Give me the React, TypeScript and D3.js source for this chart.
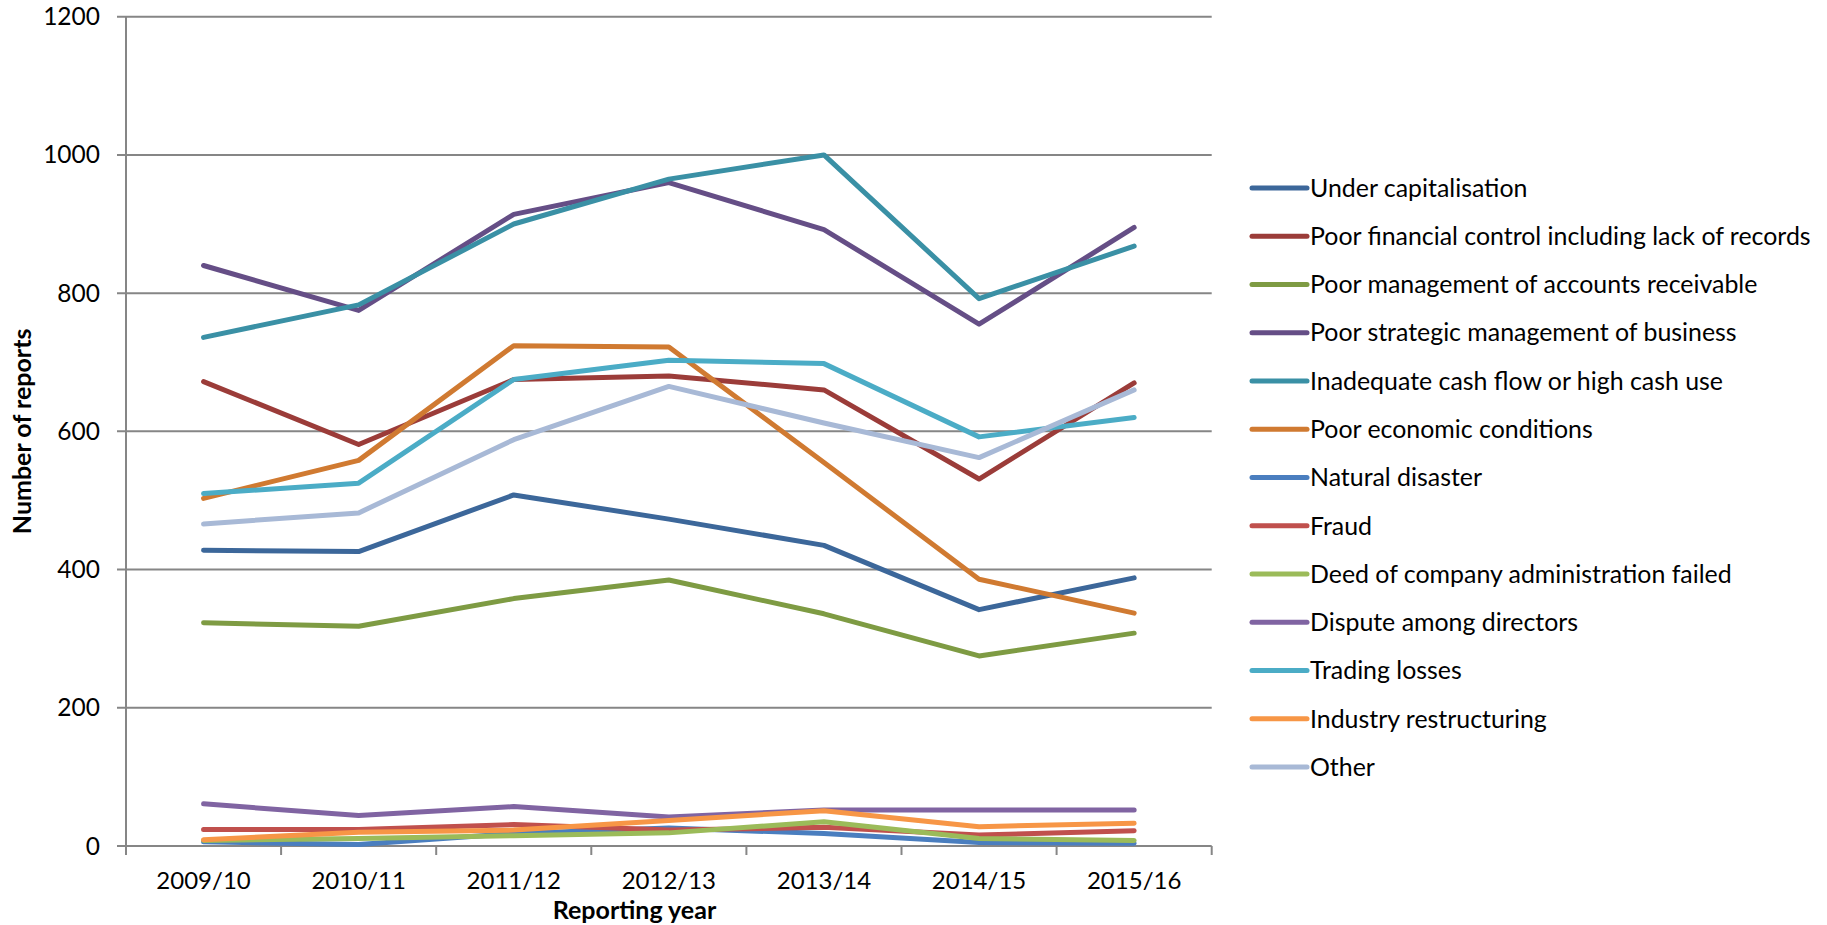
import React from "react";
import * as d3 from "d3";

const years = ["2009/10", "2010/11", "2011/12", "2012/13", "2013/14", "2014/15", "2015/16"];

const seriesNames = [
  "Under capitalisation",
  "Poor financial control including lack of records",
  "Poor management of accounts receivable",
  "Poor strategic management of business",
  "Inadequate cash flow or high cash use",
  "Poor economic conditions",
  "Natural disaster",
  "Fraud",
  "Deed of company administration failed",
  "Dispute among directors",
  "Trading losses",
  "Industry restructuring",
  "Other",
];

const underCapitalisation = [428, 426, 508, 473, 435, 342, 388];
const poorFinancialControl = [672, 581, 675, 680, 660, 531, 670];
const poorAccountsReceivable = [323, 318, 358, 385, 336, 275, 308];
const poorStrategicManagement = [840, 775, 914, 960, 892, 755, 895];
const inadequateCashFlow = [736, 783, 900, 965, 1000, 792, 868];
const poorEconomicConditions = [503, 558, 724, 722, 555, 386, 337];
const naturalDisaster = [6, 2, 18, 26, 18, 5, 4];
const fraud = [24, 24, 31, 23, 27, 16, 22];
const deedFailed = [8, 11, 15, 19, 35, 11, 8];
const disputeAmongDirectors = [61, 44, 57, 42, 52, 52, 52];
const tradingLosses = [510, 525, 675, 703, 698, 592, 620];
const industryRestructuring = [9, 20, 23, 37, 51, 28, 33];
const other = [466, 482, 588, 665, 612, 562, 660];

const seriesValues = [
  underCapitalisation,
  poorFinancialControl,
  poorAccountsReceivable,
  poorStrategicManagement,
  inadequateCashFlow,
  poorEconomicConditions,
  naturalDisaster,
  fraud,
  deedFailed,
  disputeAmongDirectors,
  tradingLosses,
  industryRestructuring,
  other,
];

const colors = [
  "#3C679A",
  "#9B3C39",
  "#7E9B43",
  "#654E86",
  "#3A90A5",
  "#D07A31",
  "#4A7EBF",
  "#C0504D",
  "#9BBB59",
  "#8064A2",
  "#4BACC6",
  "#F79646",
  "#A8B9D6",
];

const yTicks = [0, 200, 400, 600, 800, 1000, 1200];

const W = 1827;
const H = 925;
const FONT = "Lato, 'Open Sans', sans-serif";

export default function App() {
  const x = d3.scaleBand<string>().domain(years).range([126, 1211.7]).padding(0);
  const y = d3.scaleLinear().domain([0, 1200]).range([846, 16.7]);
  const cx = (yr: string) => (x(yr) as number) + x.bandwidth() / 2;
  const line = d3
    .line<number>()
    .x((_, i) => cx(years[i]))
    .y((v) => y(v));

  const boundaries = years.map((yr) => x(yr) as number).concat([x.range()[1]]);
  const legendX = 1252;
  const legendY0 = 188;
  const legendStep = 48.26;

  return (
    <svg
      width={W}
      height={H}
      style={{ position: "absolute", left: 0, top: 0, display: "block", background: "#fff" }}
      fontFamily={FONT}
    >
      <rect x={0} y={0} width={W} height={H} fill="#fff" />
      {/* gridlines */}
      {yTicks.map((t) => (
        <line key={"g" + t} x1={x.range()[0] - 9} x2={x.range()[1]} y1={y(t)} y2={y(t)} stroke="#868686" strokeWidth={2} />
      ))}
      {/* y axis */}
      <line x1={x.range()[0]} x2={x.range()[0]} y1={y(1200)} y2={y(0)} stroke="#868686" strokeWidth={2} />
      {/* x ticks */}
      {boundaries.map((b, i) => (
        <line key={"xt" + i} x1={b} x2={b} y1={y(0)} y2={y(0) + 9} stroke="#868686" strokeWidth={2} />
      ))}
      {/* y tick labels */}
      {yTicks.map((t) => (
        <text key={"yl" + t} x={100} y={y(t)} dy="0.35em" textAnchor="end" fontSize={24.5} fill="#000">
          {t}
        </text>
      ))}
      {/* x tick labels */}
      {years.map((yr) => (
        <text key={"xl" + yr} x={cx(yr)} y={889} textAnchor="middle" fontSize={24} fill="#000">
          {yr}
        </text>
      ))}
      {/* axis titles */}
      <text x={634.5} y={919} textAnchor="middle" fontSize={25} fontWeight="bold" fill="#000">
        Reporting year
      </text>
      <text
        transform={`translate(31,${(y(0) + y(1200)) / 2}) rotate(-90)`}
        textAnchor="middle"
        fontSize={25}
        fontWeight="bold"
        fill="#000"
      >
        Number of reports
      </text>
      {/* series */}
      {seriesValues.map((vals, i) => (
        <path
          key={"s" + i}
          d={line(vals) as string}
          fill="none"
          stroke={colors[i]}
          strokeWidth={5}
          strokeLinejoin="round"
          strokeLinecap="round"
        />
      ))}
      {/* legend */}
      {seriesNames.map((name, i) => {
        const ly = legendY0 + i * legendStep;
        return (
          <g key={"lg" + i}>
            <line x1={legendX} x2={legendX + 55} y1={ly} y2={ly} stroke={colors[i]} strokeWidth={5} strokeLinecap="round" />
            <text x={1310} y={ly} dy="0.35em" fontSize={24.9} fill="#000">
              {name}
            </text>
          </g>
        );
      })}
    </svg>
  );
}
